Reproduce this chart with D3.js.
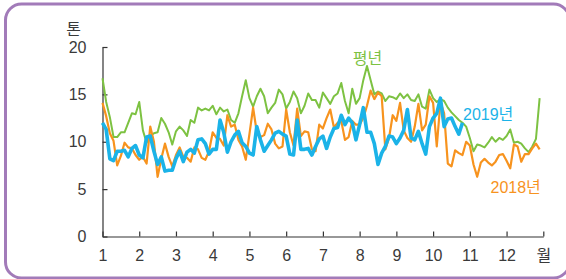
<!DOCTYPE html>
<html>
<head>
<meta charset="utf-8">
<script src="https://cdn.jsdelivr.net/npm/d3@7"></script>
<style>
  body { margin: 0; background: #fff; }
  svg text { font-family: "Liberation Sans", "Noto Sans CJK KR", sans-serif; }
</style>
</head>
<body>
<svg id="chart"></svg>
<script>
var width = 566,
  height = 279;

// month ticks (13 = end of December, labelled 월)
var monthTicks = [1, 2, 3, 4, 5, 6, 7, 8, 9, 10, 11, 12, 13];
var yTicks = [0, 5, 10, 15, 20];

// sample dates: every 0.1 month from Jan 1
var dates = d3.range(120).map(function(i) { return 1 + i * 0.1; });

// 평년 (normal year)
var normal = [16.7, 14.2, 12.6, 10.5, 10.5, 11.0, 11.0, 12.0, 13.0, 12.9,
  14.2, 11.2, 9.9, 10.6, 10.9, 11.0, 12.5, 11.9, 11.0, 9.7,
  11.1, 11.6, 11.2, 10.6, 12.3, 12.0, 13.6, 13.3, 13.5, 13.3,
  13.8, 12.9, 13.6, 13.2, 13.4, 12.3, 12.0, 13.0, 14.8, 16.5,
  14.6, 13.7, 14.8, 15.6, 14.8, 13.0, 13.6, 14.1, 15.5, 15.0,
  13.5, 14.2, 15.3, 14.6, 13.0, 13.8, 15.1, 14.4, 14.4, 13.6,
  15.2, 14.6, 14.0, 14.8, 15.1, 16.2, 14.3, 13.0, 15.6, 14.0,
  14.6, 16.5, 18.0, 16.5, 15.0, 15.3, 15.1, 14.3, 14.8, 14.7,
  14.5, 15.1, 14.6, 15.0, 14.4, 14.3, 15.0, 13.7, 13.5, 15.5,
  14.6, 14.2, 14.5, 14.3, 13.6, 13.1, 12.7, 12.3, 12.0, 11.6,
  10.4, 9.0, 9.7, 9.6, 9.4, 9.9, 10.5, 10.0, 10.4, 10.2,
  10.6, 11.3, 9.9, 10.0, 9.8, 9.3, 8.9, 9.5, 10.3, 14.6];

// 2018년
var y2018 = [14.1, 12.7, 10.9, 10.1, 7.5, 8.5, 9.9, 9.4, 9.3, 8.6,
  8.1, 8.4, 7.7, 11.6, 10.0, 6.3, 8.2, 9.8, 8.4, 7.4,
  8.6, 9.4, 8.4, 8.3, 7.9, 9.4, 9.2, 8.3, 8.1, 9.0,
  11.0, 10.4, 10.3, 9.6, 12.8, 11.6, 11.8, 10.2, 9.5, 8.1,
  10.8, 13.6, 11.0, 10.5, 10.7, 11.9, 11.3, 9.8, 9.3, 9.5,
  13.4, 11.0, 9.6, 13.5, 10.6, 11.1, 11.0, 9.2, 9.0, 11.8,
  11.4, 12.5, 13.4, 11.5, 12.0, 12.2, 10.2, 10.5, 12.2, 11.8,
  11.8, 12.5, 13.8, 15.4, 14.5, 15.2, 14.8, 9.2, 10.4, 12.8,
  12.2, 14.1, 11.2, 10.4, 10.0, 11.6, 14.0, 11.2, 11.8, 14.8,
  14.1, 9.5, 14.2, 13.0, 7.7, 7.4, 9.1, 8.8, 8.6, 10.0,
  9.6, 7.6, 6.3, 7.8, 8.2, 7.8, 7.5, 7.9, 8.6, 8.7,
  8.0, 7.2, 9.7, 9.5, 7.9, 8.7, 8.7, 9.3, 9.8, 9.2];

// 2019년 (through late October)
var y2019 = [12.0, 11.3, 8.2, 8.0, 9.0, 9.0, 9.1, 8.4, 9.3, 9.6,
  8.6, 8.3, 10.5, 10.6, 9.0, 7.6, 8.4, 6.9, 7.0, 7.0,
  8.2, 9.0, 7.9, 8.9, 9.2, 8.8, 10.2, 10.3, 9.8, 8.7,
  9.2, 9.2, 12.3, 11.0, 8.9, 10.0, 10.7, 11.1, 9.9, 9.5,
  8.8, 8.6, 11.6, 10.2, 9.0, 9.6, 10.2, 10.9, 11.1, 10.8,
  10.6, 8.7, 8.6, 12.3, 9.2, 9.2, 9.3, 8.6, 9.5, 10.3,
  10.6, 9.3, 10.5, 11.4, 11.5, 12.8, 11.8, 12.5, 12.0, 10.2,
  11.8, 13.6, 11.0, 11.0, 9.8, 7.6, 8.8, 9.5, 10.6, 10.5,
  9.8, 10.4, 11.2, 13.4, 10.4, 10.2, 11.1, 9.8, 8.7, 11.6,
  12.5, 13.0, 14.6, 11.6, 12.4, 12.5, 11.6, 10.8, 12.0];

var series = [
  { name: '평년', values: normal, color: '#7dc242', width: 2 },
  { name: '2018년', values: y2018, color: '#f7931e', width: 2.2 },
  { name: '2019년', values: y2019, color: '#1bb3e8', width: 3.6 }
];

var svg = d3.select('#chart')
  .attr('width', width)
  .attr('height', height);

// frame
svg.append('rect')
  .attr('x', 5.5)
  .attr('y', 4)
  .attr('width', 564)
  .attr('height', 274)
  .attr('rx', 16)
  .attr('fill', 'none')
  .attr('stroke', '#a27bb9')
  .attr('stroke-width', 3);

var x = d3.scaleLinear()
  .domain([1, 13])
  .range([102.5, 543.3]);

var y = d3.scaleLinear()
  .domain([0, 20])
  .range([236.5, 47]);

var line = d3.line()
  .x(function(d) { return x(d[0]); })
  .y(function(d) { return y(d[1]); });

svg.append('g')
  .attr('transform', 'translate(' + x(1) + ',0)')
  .call(d3.axisLeft(y)
    .tickValues(yTicks)
    .tickSizeInner(-5)
    .tickSizeOuter(0)
    .tickPadding(16));

svg.append('g')
  .attr('transform', 'translate(0,' + y(0) + ')')
  .call(d3.axisBottom(x)
    .tickValues(monthTicks)
    .tickSizeInner(-5)
    .tickSizeOuter(0)
    .tickPadding(13)
    .tickFormat(function(d) { return d === 13 ? '월' : d; }));

svg.selectAll('.domain, .tick line')
  .attr('stroke', '#333')
  .attr('stroke-width', 1.2);

svg.selectAll('.tick text')
  .attr('fill', '#3a3a3a')
  .attr('font-size', 16);

svg.append('text')
  .attr('x', 73.5)
  .attr('y', 34.5)
  .attr('text-anchor', 'middle')
  .attr('font-size', 16)
  .attr('fill', '#3a3a3a')
  .text('톤');

series.forEach(function(s) {
  svg.append('path')
    .datum(s.values.map(function(v, i) { return [dates[i], v]; }))
    .attr('fill', 'none')
    .attr('stroke', s.color)
    .attr('stroke-width', s.width)
    .attr('stroke-linejoin', 'round')
    .attr('d', line);
});

// series labels
svg.append('text')
  .attr('x', 367.5).attr('y', 64)
  .attr('text-anchor', 'middle')
  .attr('font-size', 16)
  .attr('fill', series[0].color)
  .text(series[0].name);

svg.append('text')
  .attr('x', 463).attr('y', 119.5)
  .attr('font-size', 16)
  .attr('fill', series[2].color)
  .text(series[2].name);

svg.append('text')
  .attr('x', 490.5).attr('y', 193)
  .attr('font-size', 16)
  .attr('fill', series[1].color)
  .text(series[1].name);
</script>
</body>
</html>
